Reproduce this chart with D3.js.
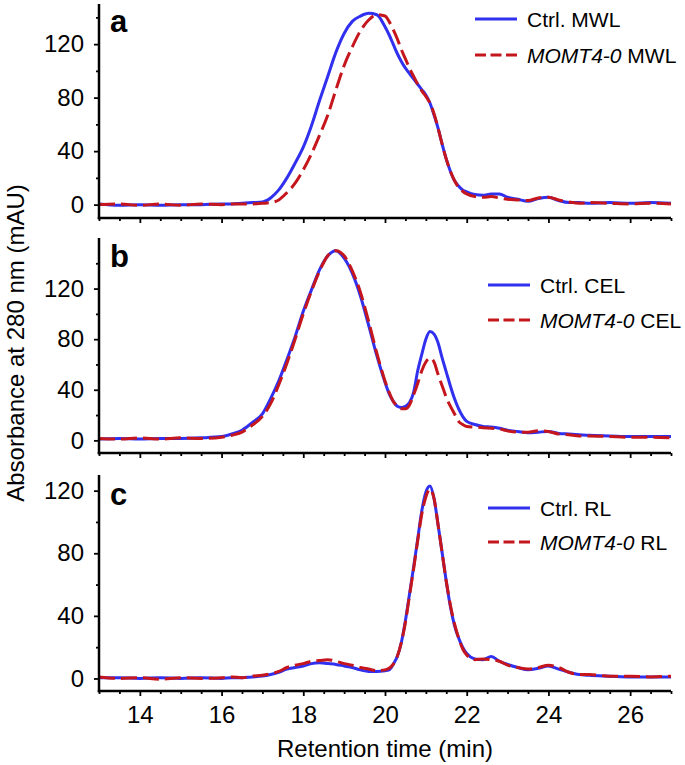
<!DOCTYPE html>
<html>
<head>
<meta charset="utf-8">
<script src="https://cdn.jsdelivr.net/npm/d3@7"></script>
<style>
  html, body { margin: 0; padding: 0; background: #fff; }
  svg { display: block; font-family: "Liberation Sans", Arial, Helvetica, sans-serif; }
</style>
</head>
<body>
<svg id="chart" width="685" height="765"></svg>
<script>
// ---- data ----
const times = [13.0, 13.5, 14.0, 14.5, 15.0, 15.5, 16.0, 16.25, 16.5, 16.75,
  17.0, 17.2, 17.4, 17.6, 17.8, 18.0, 18.2, 18.4, 18.6, 18.8,
  19.0, 19.2, 19.4, 19.6, 19.8, 20.0, 20.1, 20.2, 20.3, 20.4,
  20.5, 20.6, 20.7, 20.8, 20.9, 21.0, 21.1, 21.2, 21.3, 21.4,
  21.5, 21.6, 21.7, 21.8, 21.9, 22.0, 22.2, 22.4, 22.6, 22.8,
  23.0, 23.25, 23.5, 23.75, 24.0, 24.25, 24.5, 24.75, 25.0, 25.5,
  26.0, 26.5, 27.0];

const ctrlMWL = [0.5, -0.5, 0, -0.5, 0, 0, 0.5, 0.5, 1, 1.5,
  2, 5, 11, 20, 31, 43, 59, 78, 96, 114,
  128, 137, 141, 143, 142, 133, 127, 120, 113, 107,
  102, 98, 94, 90, 86, 82, 76, 67, 57, 45,
  34, 25, 18, 14, 11, 9.5, 7.5, 7, 8, 8,
  5.5, 4, 2.5, 4.5, 5.5, 3, 1.5, 1.5, 1, 1.5,
  1, 1.5, 1];
const momtMWL = [0, 0.5, -0.5, 0.5, -0.5, 0.5, 0, 0.5, 0.5, 0.5,
  1, 1.5, 3.5, 9, 16, 26, 38, 52, 67, 86,
  104, 118, 130, 138, 142, 141, 137, 131, 124, 116,
  109, 102, 96, 90, 85, 81, 76, 68, 57, 45,
  34, 25, 18, 13, 10, 8, 6, 5.5, 6, 5,
  4, 3.5, 3, 5, 5.5, 3.5, 2, 1, 1.5, 1,
  0.5, 1, 0.5];

const ctrlCEL = [1, 1.5, 1, 1.5, 1.5, 2, 3, 5, 8, 14,
  21, 33, 47, 64, 82, 102, 119, 135, 146, 150,
  144, 132, 114, 91, 67, 46, 37, 31, 27, 26,
  27, 30, 38, 55, 68, 80, 86, 84, 77, 65,
  54, 43, 33, 25, 19, 15, 12.5, 11, 10.5, 9.5,
  8, 7, 6, 6.5, 7, 5.5, 5, 4.5, 4, 3.5,
  3, 3, 3];
const momtCEL = [1.5, 1, 2, 1, 2, 1.5, 2.5, 4, 6.5, 12,
  19, 29, 44, 61, 80, 100, 118, 134, 146, 150,
  146, 134, 117, 94, 69, 47, 38, 31, 27, 25,
  25, 28, 36, 45, 55, 62, 65, 62, 52, 43,
  34, 27, 21, 15, 12.5, 11, 10.5, 10, 9.5, 9,
  7.5, 6.5, 6.5, 7.5, 7, 5, 4.5, 3.5, 3.5, 3,
  2.5, 2.5, 2];

const ctrlRL = [0.5, 0.5, 0, 0.5, 0, 0.5, 0, 0.5, 0.5, 1,
  1.5, 2.5, 4, 6, 7, 8, 9.5, 10, 9.5, 9,
  8, 7, 5.5, 4.5, 4.5, 5, 5.5, 9, 14, 23,
  37, 54, 71, 89, 107, 119, 123, 115, 98, 80,
  62, 46, 34, 26, 20, 16, 12.5, 12, 14, 11,
  9, 7, 5.5, 6.5, 8, 6, 4, 2.5, 2, 1.5,
  1, 1, 1];
const momtRL = [1, 0, 0.5, -0.5, 0.5, 0, 0.5, 1, 0.5, 1.5,
  2, 3, 4.5, 7, 8.5, 9.5, 11, 11.5, 12, 11,
  9.5, 8.5, 7, 6, 5, 5.5, 6.5, 9, 14, 23,
  36, 53, 70, 88, 105, 116, 121, 115, 98, 80,
  62, 47, 35, 26, 19, 15, 12, 12.5, 12, 11,
  8.5, 7, 6, 7, 8.5, 7, 4, 2.5, 2.5, 1.5,
  1.5, 1, 1.5];

const xTicks = [14, 16, 18, 20, 22, 24, 26];
const xMinorTicks = [13, 13.5, 14.5, 15, 15.5, 16.5, 17, 17.5, 18.5, 19, 19.5, 20.5, 21, 21.5, 22.5, 23, 23.5, 24.5, 25, 25.5, 26.5, 27];
const yTicks = [0, 40, 80, 120];
const yMinorA = [20, 60, 100, 140];
const yMinorB = [20, 60, 100, 140];
const yMinorC = [20, 60, 100];
const panelLetters = ["a", "b", "c"];
const sampleNames = ["MWL", "CEL", "RL"];

// ---- layout ----
const svg = d3.select("#chart");
const left = 99, right = 671;
const BLUE = "#3030ee", RED = "#c4161c";
const TICK_FONT = 24;

const panels = [
  { letter: panelLetters[0], name: sampleNames[0], ctrl: ctrlMWL, momt: momtMWL, domain: [-10, 150], top: 4, bottom: 218, minor: yMinorA,
    legX: 475, legY: [19, 55], labelY: 32 },
  { letter: panelLetters[1], name: sampleNames[1], ctrl: ctrlCEL, momt: momtCEL, domain: [-10, 160], top: 238, bottom: 453, minor: yMinorB,
    legX: 488, legY: [285, 320], labelY: 267 },
  { letter: panelLetters[2], name: sampleNames[2], ctrl: ctrlRL, momt: momtRL, domain: [-8, 130], top: 475, bottom: 691, minor: yMinorC,
    legX: 488, legY: [508, 542], labelY: 505 }
];

const x = d3.scaleLinear().domain([13, 27]).range([left, right]);

panels.forEach((p, i) => {
  const y = d3.scaleLinear().domain(p.domain).range([p.bottom, p.top]);
  const g = svg.append("g");

  const line = (vals) => d3.line()
    .x((d, k) => x(times[k]))
    .y(d => y(d))
    .curve(d3.curveMonotoneX)(vals);

  g.append("path").attr("d", line(p.ctrl))
    .attr("fill", "none").attr("stroke", BLUE).attr("stroke-width", 3)
    .attr("stroke-linejoin", "round");
  g.append("path").attr("d", line(p.momt))
    .attr("fill", "none").attr("stroke", RED).attr("stroke-width", 3)
    .attr("stroke-dasharray", "16,6");

  // y axis
  const yAx = g.append("g").attr("transform", `translate(${left},0)`)
    .call(d3.axisLeft(y).tickValues(yTicks).tickSize(5).tickSizeOuter(0).tickPadding(10));
  const yMin = g.append("g").attr("transform", `translate(${left},0)`)
    .call(d3.axisLeft(y).tickValues(p.minor).tickSize(3).tickSizeOuter(0).tickFormat(""));
  yMin.select(".domain").remove();

  // x axis
  const xAx = g.append("g").attr("transform", `translate(0,${p.bottom})`)
    .call(d3.axisBottom(x).tickValues(xTicks).tickSize(5).tickSizeOuter(0).tickPadding(10)
      .tickFormat(i === 2 ? d3.format("d") : ""));
  const xMin = g.append("g").attr("transform", `translate(0,${p.bottom})`)
    .call(d3.axisBottom(x).tickValues(xMinorTicks).tickSize(3).tickSizeOuter(0).tickFormat(""));
  xMin.select(".domain").remove();

  [yAx, yMin, xAx, xMin].forEach(a => {
    a.selectAll(".domain").attr("stroke", "#000").attr("stroke-width", 2.5);
    a.selectAll(".tick line").attr("stroke", "#000").attr("stroke-width", 1.8);
    a.selectAll(".tick text").attr("font-size", TICK_FONT).attr("fill", "#000")
      .attr("font-family", '"Liberation Sans", Arial, sans-serif');
  });
  // make the two axis lines meet at the corner
  yAx.select(".domain").attr("d", `M0,${p.top}V${p.bottom + 1.25}`);
  xAx.select(".domain").attr("d", `M${left - 1.25},0H${right}`);

  // panel letter
  g.append("text").attr("x", 110).attr("y", p.labelY)
    .attr("font-size", 31).attr("font-weight", "bold").text(p.letter);

  // legend
  const lx = p.legX;
  g.append("line").attr("x1", lx).attr("x2", lx + 42).attr("y1", p.legY[0]).attr("y2", p.legY[0])
    .attr("stroke", BLUE).attr("stroke-width", 3);
  g.append("text").attr("x", lx + 52).attr("y", p.legY[0]).attr("dy", "0.36em")
    .attr("font-size", 21).text("Ctrl. " + p.name);
  g.append("line").attr("x1", lx).attr("x2", lx + 42).attr("y1", p.legY[1]).attr("y2", p.legY[1])
    .attr("stroke", RED).attr("stroke-width", 3).attr("stroke-dasharray", "11,4.5");
  const t = g.append("text").attr("x", lx + 52).attr("y", p.legY[1]).attr("dy", "0.36em")
    .attr("font-size", 21);
  t.append("tspan").attr("font-style", "italic").text("MOMT4-0");
  t.append("tspan").text(" " + p.name);
});

// axis titles
svg.append("text")
  .attr("transform", `translate(24,343) rotate(-90)`)
  .attr("text-anchor", "middle").attr("font-size", 24)
  .text("Absorbance at 280 nm (mAU)");
svg.append("text")
  .attr("x", (left + right) / 2).attr("y", 757)
  .attr("text-anchor", "middle").attr("font-size", 24)
  .text("Retention time (min)");
</script>
</body>
</html>
